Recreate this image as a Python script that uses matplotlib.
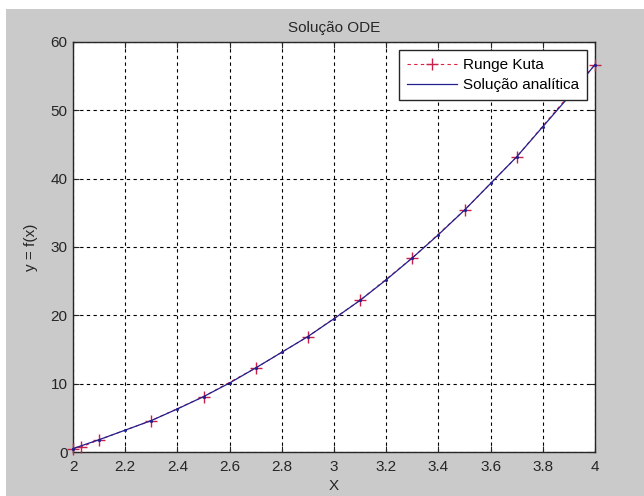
import matplotlib
matplotlib.use("Agg")
import matplotlib.pyplot as plt
from matplotlib.patches import Rectangle

# Data
rk_x = [2.0, 2.03, 2.1, 2.3, 2.5, 2.7, 2.9, 3.1, 3.3, 3.5, 3.7, 4.0]
rk_y = [0.5, 0.7, 1.8, 4.6, 8.1, 12.3, 16.9, 22.2, 28.4, 35.4, 43.2, 56.7]

an_x = [2.0, 2.1, 2.2, 2.3, 2.4, 2.5, 2.6, 2.7, 2.8, 2.9, 3.0,
        3.1, 3.2, 3.3, 3.4, 3.5, 3.6, 3.7, 3.8, 3.9, 4.0]
an_y = [0.5, 1.8, 3.2, 4.6, 6.3, 8.1, 10.1, 12.3, 14.6, 16.9, 19.5,
        22.2, 25.2, 28.4, 31.8, 35.4, 39.3, 43.2, 47.6, 52.0, 56.7]

x_ticks = [2, 2.2, 2.4, 2.6, 2.8, 3, 3.2, 3.4, 3.6, 3.8, 4]
x_tick_labels = ["2", "2.2", "2.4", "2.6", "2.8", "3", "3.2", "3.4", "3.6", "3.8", "4"]
y_ticks = [0, 10, 20, 30, 40, 50, 60]

plt.rcParams['font.family'] = ['Liberation Sans', 'DejaVu Sans']

W, H = 644, 496
FS = 11
TXT = '#262626'
fig = plt.figure(figsize=(W / 100, H / 100), dpi=100, facecolor='white')
fig.patches.append(Rectangle((6 / W, 0), 1, (H - 9) / H, transform=fig.transFigure,
                             facecolor='#cacaca', edgecolor='none', zorder=-10))

ax = fig.add_axes([73 / W, 1 - 452 / H, (595 - 73) / W, (452 - 42) / H])
ax.set_facecolor('white')

ax.plot(rk_x, rk_y, linestyle=(0, (3, 3)), color='#e0203a', linewidth=0.8,
        marker='+', markersize=8, markeredgewidth=1.0, markeredgecolor='#c8204a',
        label='Runge Kuta', zorder=3, clip_on=False)
ax.plot(an_x, an_y, '-', color='#202090', linewidth=0.9,
        label='Solução analítica', zorder=4, clip_on=False)
ax.plot(an_x, an_y, linestyle='none', color='#202090', marker='.', markersize=2.5,
        zorder=4, clip_on=False)

ax.set_xlim(2, 4)
ax.set_ylim(0, 60)
ax.set_xticks(x_ticks)
ax.set_xticklabels(x_tick_labels)
ax.set_yticks(y_ticks)

ax.grid(True, color='black', linestyle=(0, (3, 3)), linewidth=0.8)
ax.tick_params(direction='in', top=True, right=True, length=4, width=0.8,
               labelsize=FS, colors=TXT)
ax.tick_params(axis='x', pad=6)
ax.tick_params(axis='y', pad=4)
for s in ax.spines.values():
    s.set_linewidth(1.0)
    s.set_color(TXT)

ax.set_title('Solução ODE', fontsize=FS, color=TXT, pad=7)
ax.set_xlabel('X', fontsize=FS, color=TXT, labelpad=3)
ax.set_ylabel('y = f(x)', fontsize=FS, color=TXT, labelpad=9)

leg = ax.legend(loc='upper right', fontsize=FS, frameon=True, fancybox=False,
                edgecolor=TXT, framealpha=1, borderaxespad=0.55,
                handlelength=3.3, handletextpad=0.35, borderpad=0.5, labelspacing=0.4)
leg.get_frame().set_linewidth(1.0)

fig.savefig('out.png', dpi=100, facecolor=fig.get_facecolor())
